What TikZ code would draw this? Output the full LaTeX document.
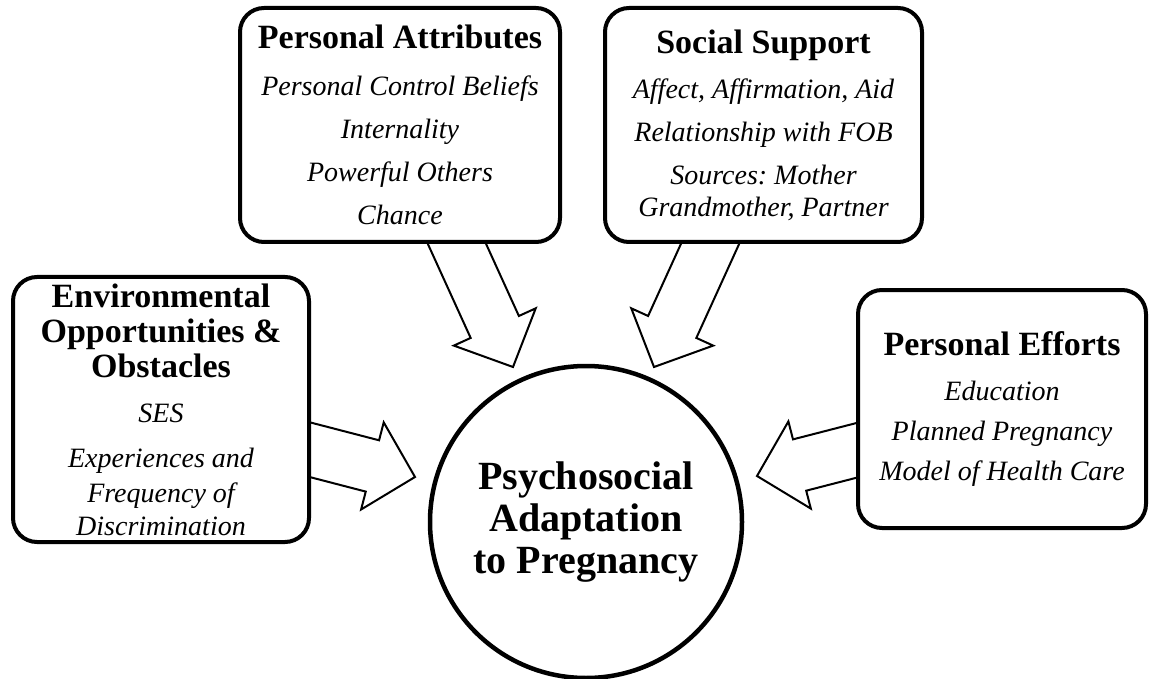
\documentclass[tikz,border=0pt]{standalone}
\usepackage{fontspec}
\setmainfont{Liberation Serif}
\frenchspacing
\usetikzlibrary{calc,backgrounds}
\newcommand\dgTitle[1]{{\fontsize{34}{40}\selectfont\bfseries #1}}
\newcommand\dgItem[1]{{\fontsize{28}{40}\selectfont\itshape #1}}
\newcommand\blockarrow[2]{%
  \coordinate (baA) at ($(#1)!-40pt!(#2)$);
  \coordinate (baP) at ($(#2)!44pt!(#1)$);
  \draw[blockline] ($(baA)!26.5pt!90:(#2)$) -- ($(baP)!26.5pt!90:(#2)$)
    -- ($(baP)!45pt!90:(#2)$) -- (#2) -- ($(baP)!45pt!-90:(#2)$)
    -- ($(baP)!26.5pt!-90:(#2)$) -- ($(baA)!26.5pt!-90:(#2)$) -- cycle;}
\tikzset{
  box/.style={draw, line width=4pt, rounded corners=24pt, fill=white,
    align=center, inner sep=0pt},
  blockline/.style={draw, line width=2pt, fill=white, line join=miter},
  hub/.style={circle, draw, line width=4.5pt, fill=white, align=center,
    inner sep=0pt, font=\fontsize{40}{42}\selectfont\bfseries}
}
\begin{document}
\begin{tikzpicture}[x=1pt,y=-1pt]
\useasboundingbox (0,0) rectangle (1149,679);
\node[box, minimum width=320pt, minimum height=234pt,
  font=\fontsize{28}{43}\selectfont] (pa) at (400,125)
  {\dgTitle{Personal Attributes}\\[4pt]
   \dgItem{Personal Control Beliefs}\\
   \dgItem{Internality}\\
   \dgItem{Powerful Others}\\
   \dgItem{Chance}};
\node[box, minimum width=317pt, minimum height=234pt,
  font=\fontsize{28}{43}\selectfont] (so) at (763.5,125)
  {\dgTitle{Social Support}\\[2pt]
   \dgItem{Affect, Affirmation, Aid}\\
   \dgItem{Relationship with FOB}\\
   \dgItem{Sources: Mother}\\[-11pt]
   \dgItem{Grandmother, Partner}};
\node[box, minimum width=296pt, minimum height=265pt,
  font=\fontsize{28}{35}\selectfont] (env) at (161,409.5)
  {\dgTitle{Environmental}\\
   \dgTitle{Opportunities \&}\\
   \dgTitle{Obstacles}\\[10pt]
   \dgItem{SES}\\[10pt]
   \dgItem{Experiences and}\\
   \dgItem{Frequency of}\\[-2pt]
   \dgItem{Discrimination}};
\node[box, minimum width=288pt, minimum height=238pt,
  font=\fontsize{28}{40}\selectfont] (pe) at (1002,409)
  {\dgTitle{Personal Efforts}\\[5pt]
   \dgItem{Education}\\
   \dgItem{Planned Pregnancy}\\
   \dgItem{Model of Health Care}};
\node[hub, minimum size=312pt] (psy) at (586,522)
  {Psychosocial\\Adaptation\\to Pregnancy};
\coordinate (paS) at ([xshift=57pt]pa.south);
\coordinate (paTip) at (513,367);
\coordinate (soS) at ([xshift=-53.5pt]so.south);
\coordinate (soTip) at (654,367);
\coordinate (envS) at ([yshift=-40.5pt]env.east);
\coordinate (envTip) at (415,477);
\coordinate (peS) at ([yshift=-41.5pt]pe.west);
\coordinate (peTip) at (757,476);
\begin{scope}[on background layer]
  \blockarrow{paS}{paTip}
  \blockarrow{soS}{soTip}
  \blockarrow{envS}{envTip}
  \blockarrow{peS}{peTip}
\end{scope}
\end{tikzpicture}
\end{document}
